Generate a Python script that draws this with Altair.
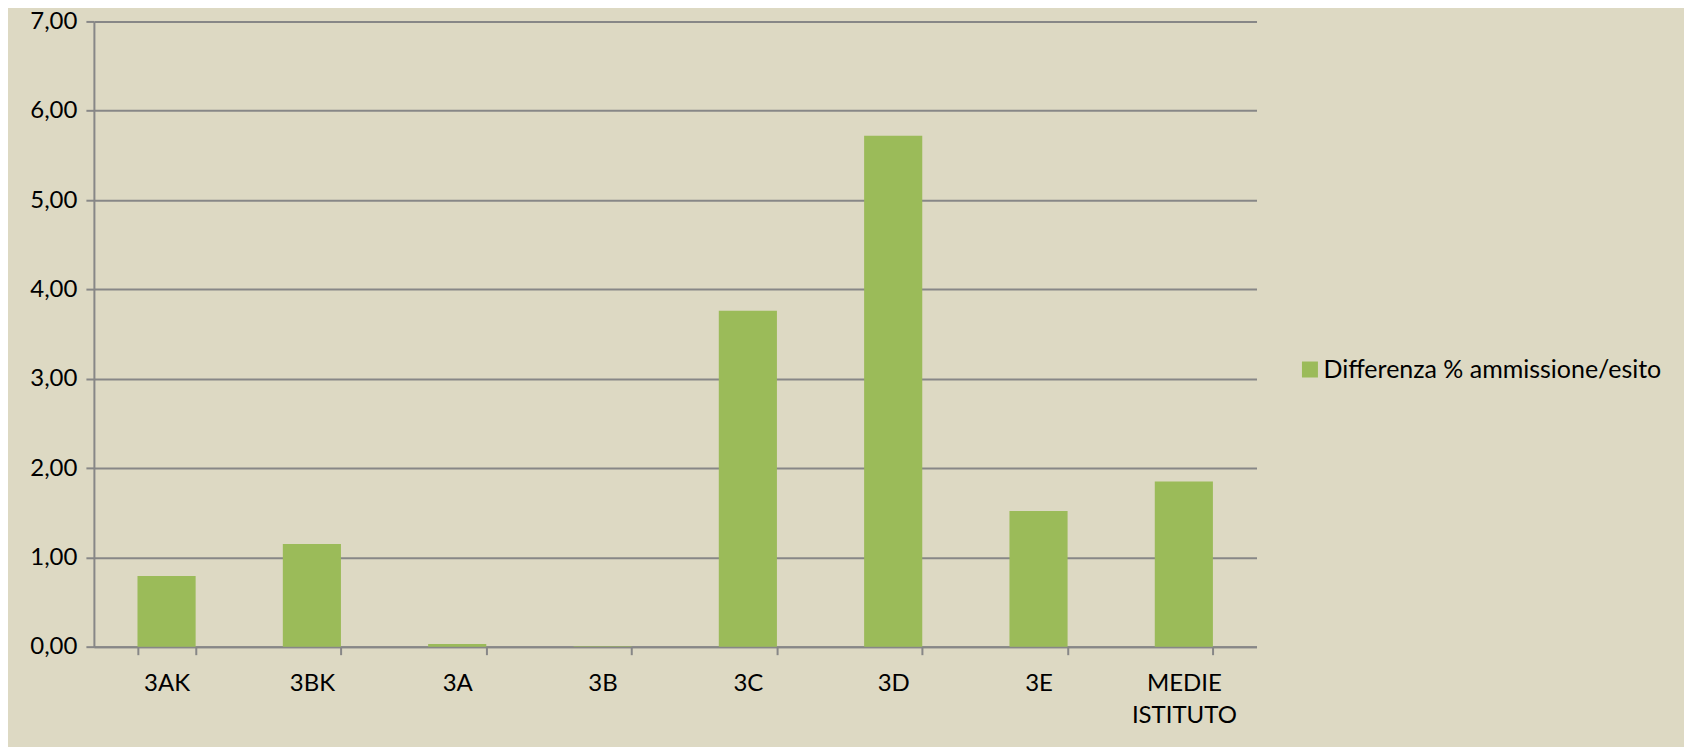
import altair as alt
import pandas as pd

categories = ["3AK", "3BK", "3A", "3B", "3C", "3D", "3E", "MEDIE ISTITUTO"]
values = [0.79, 1.15, 0.03, 0.005, 3.76, 5.72, 1.52, 1.85]
series_name = "Differenza % ammissione/esito"
y_ticks = [0, 1, 2, 3, 4, 5, 6, 7]

df = pd.DataFrame({"classe": categories, "valore": values, "serie": [series_name] * len(categories)})

BG = "#DDD9C3"
GRID = "#878787"
GREEN = "#9BBB59"
FONT = "Lato"

chart = alt.Chart(df).mark_bar(color=GREEN).encode(
    x=alt.X(
        "classe:N",
        sort=categories,
        title=None,
        scale=alt.Scale(paddingInner=0.6, paddingOuter=0.3),
        axis=alt.Axis(
            labelAngle=0,
            tickBand="extent",
            tickSize=8,
            tickWidth=2,
            tickColor=GRID,
            domainColor=GRID,
            domainWidth=2,
            labelFont=FONT,
            labelFontSize=24,
            labelColor="#000000",
            labelPadding=17,
            labelLineHeight=32,
            labelExpr="datum.label == 'MEDIE ISTITUTO' ? ['MEDIE', 'ISTITUTO'] : datum.label",
        ),
    ),
    y=alt.Y(
        "valore:Q",
        title=None,
        scale=alt.Scale(domain=[0, 7], nice=False),
        axis=alt.Axis(
            values=y_ticks,
            grid=True,
            gridColor=GRID,
            gridWidth=2,
            tickSize=8,
            tickWidth=2,
            tickColor=GRID,
            domainColor=GRID,
            domainWidth=2,
            labelFont=FONT,
            labelFontSize=24,
            labelColor="#000000",
            labelPadding=9,
            labelExpr="replace(format(datum.value, '.2f'), '.', ',')",
        ),
    ),
    color=alt.Color(
        "serie:N",
        scale=alt.Scale(domain=[series_name], range=[GREEN]),
        legend=alt.Legend(
            title=None,
            orient="none",
            legendX=1205,
            legendY=336,
            symbolType="square",
            symbolSize=256,
            symbolStrokeWidth=0,
            symbolOpacity=1,
            labelFont=FONT,
            labelFontSize=25,
            labelColor="#000000",
            labelOffset=1,
            labelLimit=600,
            padding=0,
        ),
    ),
).properties(
    width=1164,
    height=626,
    background=BG,
    padding={"left": 86, "top": 13, "right": 428, "bottom": 100},
    autosize=alt.AutoSizeParams(type="none"),
).configure_view(stroke=None)

chart.save("out.html", embed_options={"renderer": "svg", "actions": False})
